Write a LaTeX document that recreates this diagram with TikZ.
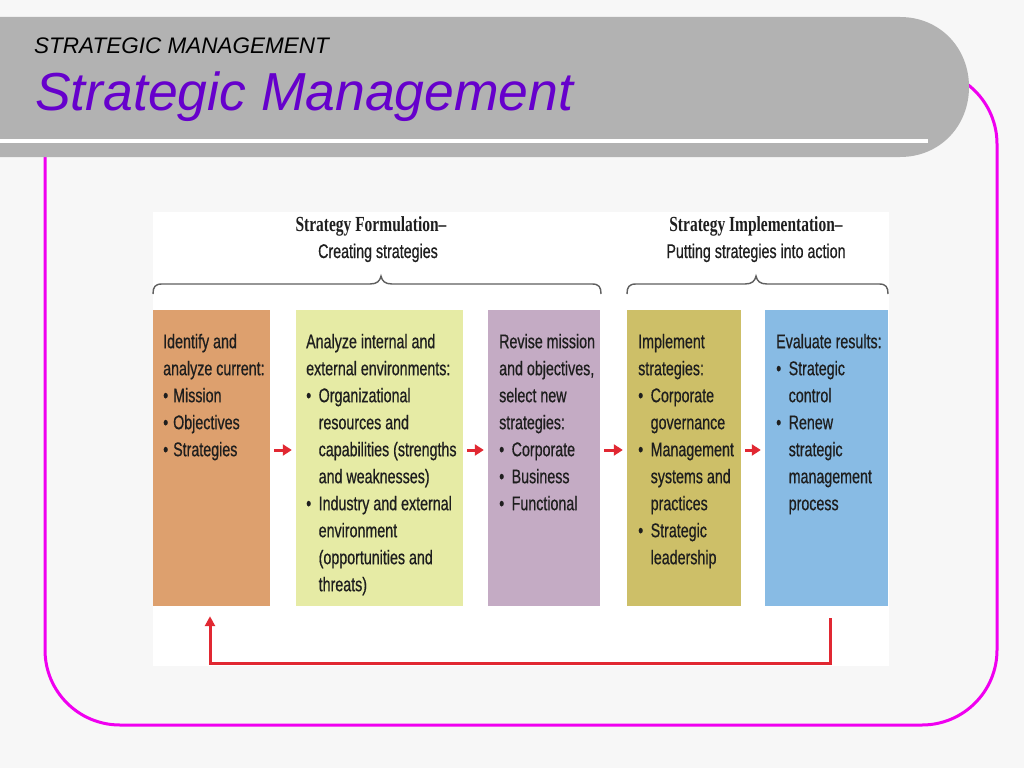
\documentclass[tikz,border=0pt]{standalone}
\usepackage{fontspec}
\setmainfont{Liberation Sans}
\newfontfamily\nar[FakeStretch=0.72,FakeBold=0.6]{Liberation Sans}
\newfontfamily\narser[FakeStretch=0.72]{Liberation Serif}
\usetikzlibrary{arrows.meta}
\definecolor{bg}{RGB}{247,247,247}
\definecolor{bandgray}{RGB}{178,178,178}
\definecolor{frame}{RGB}{240,0,240}
\definecolor{titlepurple}{RGB}{102,0,204}
\definecolor{txtc}{RGB}{30,30,30}
\definecolor{c1}{RGB}{221,160,110}
\definecolor{c2}{RGB}{230,235,165}
\definecolor{c3}{RGB}{196,171,196}
\definecolor{c4}{RGB}{205,191,104}
\definecolor{c5}{RGB}{136,187,228}
\definecolor{arrred}{RGB}{225,40,50}
\definecolor{bracegray}{RGB}{95,95,95}
\newcommand\bu{\makebox[12.5pt][l]{\textbullet}}
\newcommand\bux{\makebox[10pt][l]{\textbullet}}
\newcommand\ind{\hspace*{12.5pt}}
\begin{document}
\begin{tikzpicture}[x=1pt,y=-1pt,
  box/.style={draw=none, inner sep=0pt, minimum height=296pt},
  txt/.style={font=\nar\fontsize{19.8pt}{27pt}\selectfont, text=txtc, align=left, inner sep=0pt, anchor=north west},
  headb/.style={font=\narser\bfseries\fontsize{21.5pt}{26pt}\selectfont, text=txtc, inner sep=0pt, anchor=base},
  heads/.style={font=\nar\fontsize{19.8pt}{24pt}\selectfont, text=txtc, inner sep=0pt, anchor=base},
  flow/.style={draw=arrred, line width=3pt, -{Triangle[length=9pt,width=11pt]}, shorten <=4pt, shorten >=4pt},
  fb/.style={draw=arrred, line width=3pt, -{Triangle[length=10pt,width=10pt]}},
  brace/.style={draw=bracegray, line width=1.4pt}
]
\useasboundingbox (0,0) rectangle (1024,768);
\fill[bg] (0,0) rectangle (1024,768);

% magenta frame
\draw[frame, line width=3pt, rounded corners=75pt] (45,69) rectangle (997,725);

% header band
\fill[bandgray] (0,17) -- (900,17) .. controls (940,17) and (969,48) .. (969,87)
  .. controls (969,126) and (940,157) .. (900,157) -- (0,157) -- cycle;
\fill[white] (0,139) rectangle (928,143);

\node[font=\itshape\fontsize{22.5pt}{26pt}\selectfont, anchor=base west, inner sep=0pt] (cap) at (34,53) {STRATEGIC MANAGEMENT};
\node[font=\itshape\fontsize{53.5pt}{60pt}\selectfont, text=titlepurple, anchor=base west, inner sep=0pt] (title) at (35,110) {Strategic Management};

% diagram area
\fill[white] (153,212) rectangle (889,666);

% headings
\node[headb] (h1) at (371,231) {Strategy Formulation–};
\node[heads] (h1s) at (378,258) {Creating strategies};
\node[headb] (h2) at (756,231) {Strategy Implementation–};
\node[heads] (h2s) at (756,258) {Putting strategies into action};

% braces
\draw[brace] (153,294) .. controls (153,287) and (155,284) .. (162,284) -- (370,284)
  .. controls (377,284) and (380,281) .. (381,276) .. controls (382,281) and (385,284) .. (392,284)
  -- (592,284) .. controls (599,284) and (601,287) .. (601,294);
\draw[brace] (627,294) .. controls (627,287) and (629,284) .. (636,284) -- (745,284)
  .. controls (752,284) and (755,281) .. (756,276) .. controls (757,281) and (760,284) .. (767,284)
  -- (879,284) .. controls (886,284) and (888,287) .. (888,294);

% boxes
\node[box, fill=c1, minimum width=117pt] (b1) at (211.5,458) {};
\node[box, fill=c2, minimum width=167pt] (b2) at (379.5,458) {};
\node[box, fill=c3, minimum width=112pt] (b3) at (544,458) {};
\node[box, fill=c4, minimum width=114pt] (b4) at (684,458) {};
\node[box, fill=c5, minimum width=123pt] (b5) at (826.5,458) {};

% box texts
\node[txt] (t1) at (163,329.1) {\strut Identify and\\analyze current:\\\bux Mission\\\bux Objectives\\\bux Strategies};
\node[txt] (t2) at (306,329.1) {\strut Analyze internal and\\external environments:\\\bu Organizational\\\ind resources and\\\ind capabilities (strengths\\\ind and weaknesses)\\\bu Industry and external\\\ind environment\\\ind (opportunities and\\\ind threats)};
\node[txt] (t3) at (499,329.1) {\strut Revise mission\\and objectives,\\select new\\strategies:\\\bu Corporate\\\bu Business\\\bu Functional};
\node[txt] (t4) at (638,329.1) {\strut Implement\\strategies:\\\bu Corporate\\\ind governance\\\bu Management\\\ind systems and\\\ind practices\\\bu Strategic\\\ind leadership};
\node[txt] (t5) at (776,329.1) {\strut Evaluate results:\\\bu Strategic\\\ind control\\\bu Renew\\\ind strategic\\\ind management\\\ind process};

% flow arrows
\draw[flow] ([yshift=8pt]b1.east) -- ([yshift=8pt]b2.west);
\draw[flow] ([yshift=8pt]b2.east) -- ([yshift=8pt]b3.west);
\draw[flow] ([yshift=8pt]b3.east) -- ([yshift=8pt]b4.west);
\draw[flow] ([yshift=8pt]b4.east) -- ([yshift=8pt]b5.west);

% feedback loop
\draw[fb] ([xshift=3.5pt,yshift=-12pt]b5.south) -- ++(0pt,-45pt) -| ([xshift=-1.5pt,yshift=-10pt]b1.south);
\end{tikzpicture}
\end{document}
